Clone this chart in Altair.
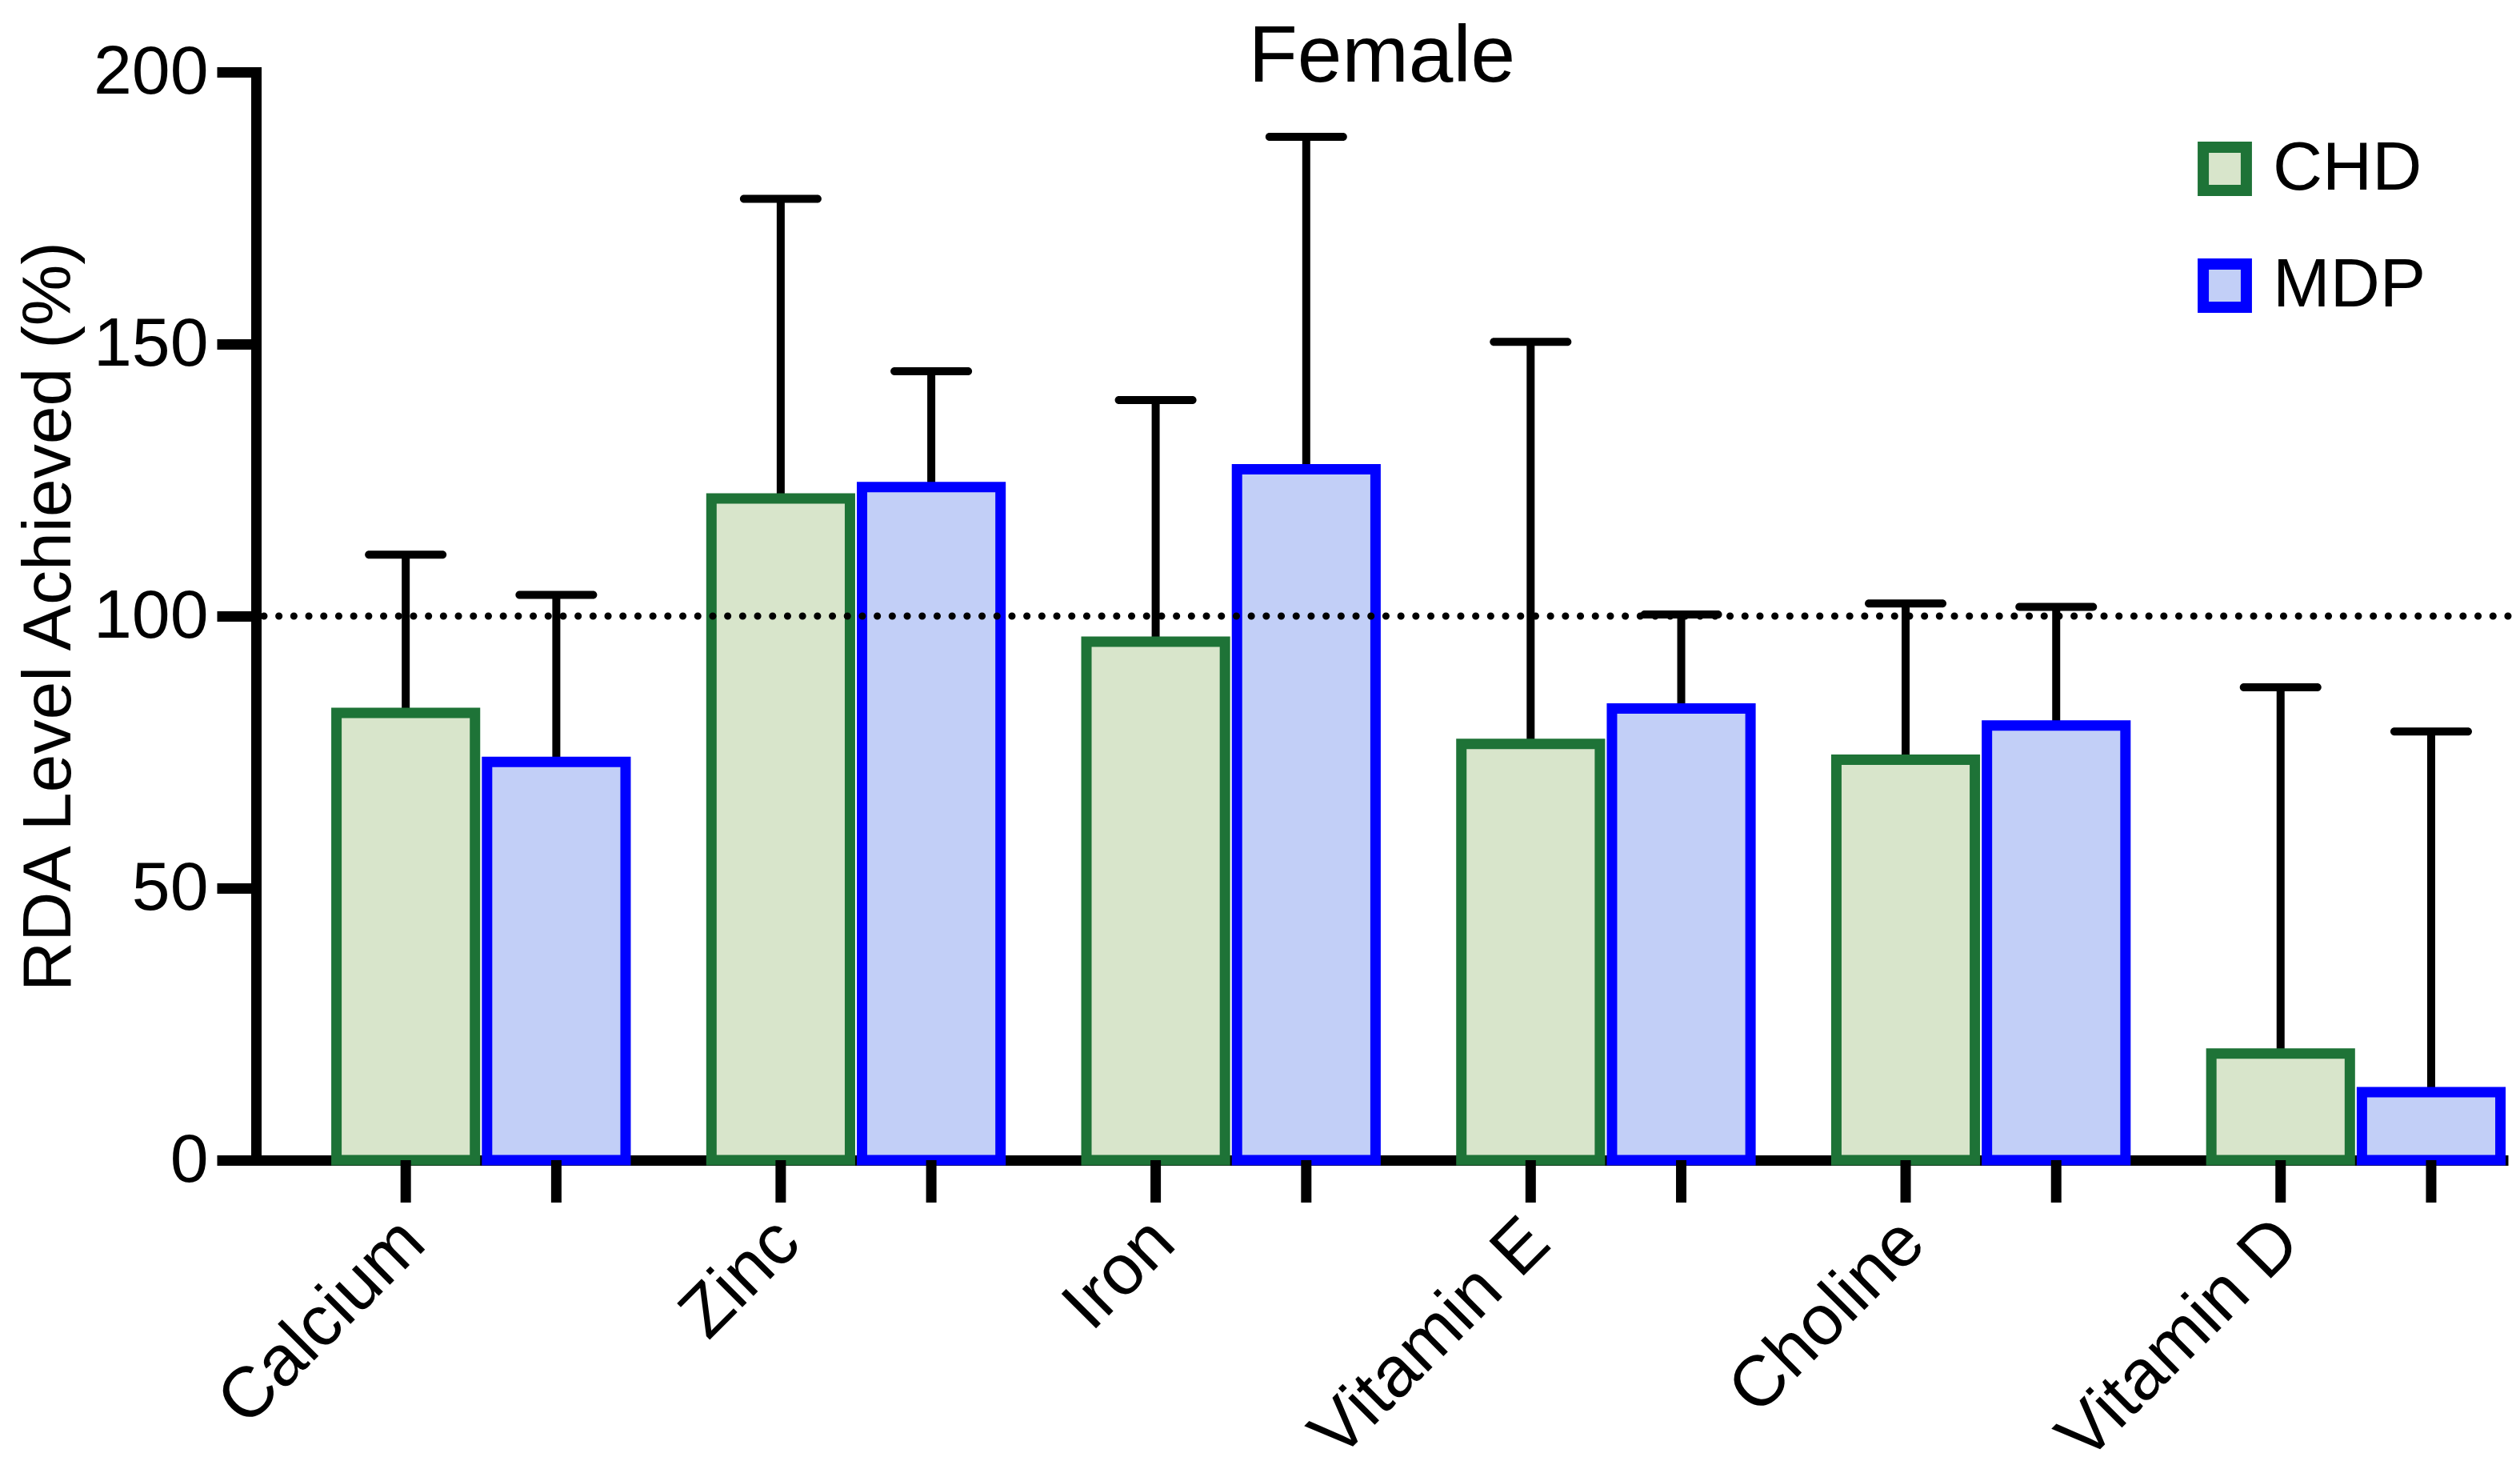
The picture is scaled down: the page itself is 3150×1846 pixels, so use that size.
import altair as alt
import pandas as pd

categories = ["Calcium", "Zinc", "Iron", "Vitamin E", "Choline", "Vitamin D"]
groups = ["CHD", "MDP"]
chd_mean = [82.2, 121.6, 95.3, 76.5, 73.6, 19.6]
chd_upper = [111.3, 176.7, 139.7, 150.4, 102.3, 86.9]
mdp_mean = [73.2, 123.7, 127.0, 83.0, 79.9, 12.5]
mdp_upper = [103.9, 145.0, 188.1, 100.3, 101.7, 78.8]
reference_level = [100]
y_ticks = [0, 50, 100, 150, 200]

fills = ["#d8e5cb", "#c2cff7"]
strokes = ["#1e7337", "#0000ff"]

rows = []
for i, c in enumerate(categories):
    rows.append({"nutrient": c, "group": groups[0], "mean": chd_mean[i], "upper": chd_upper[i]})
    rows.append({"nutrient": c, "group": groups[1], "mean": mdp_mean[i], "upper": mdp_upper[i]})
df = pd.DataFrame(rows)
ref_df = pd.DataFrame({"level": reference_level})

W, H = 2815, 1360
FONT = "Liberation Sans"

x_enc = alt.X(
    "nutrient:N",
    sort=categories,
    scale=alt.Scale(paddingInner=0.229, paddingOuter=0.1174, align=0.914, round=False),
    axis=alt.Axis(
        title=None, ticks=False, labelAngle=-45, labelAlign="right", labelBaseline="middle",
        labelOffset=-85, labelPadding=88, labelFontSize=89, labelFont=FONT,
        labelColor="black", domainColor="black", domainWidth=13, labelLimit=0,
    ),
)
xo_enc = alt.XOffset("group:N", sort=groups, scale=alt.Scale(paddingInner=0.08, paddingOuter=0))
y_scale = alt.Scale(domain=[0, 200], nice=False)
y_axis = alt.Axis(
    title="RDA Level Achieved (%)", values=y_ticks, grid=False,
    titleFont=FONT, titleFontSize=86, titleFontWeight="normal", titleColor="black", titlePadding=15,
    labelFont=FONT, labelFontSize=86, labelColor="black", labelPadding=11,
    tickSize=49, tickWidth=13, tickColor="black",
    domainColor="black", domainWidth=13, domainCap="square",
)

base = alt.Chart(df)

err = base.mark_rule(color="black", strokeWidth=10).encode(
    x=x_enc, xOffset=xo_enc,
    y=alt.Y("mean:Q", scale=y_scale, axis=y_axis),
    y2="upper:Q",
)
cap = base.mark_tick(color="black", size=102, thickness=10, cornerRadius=5, opacity=1).encode(
    x=x_enc, xOffset=xo_enc,
    y=alt.Y("upper:Q", scale=y_scale, axis=y_axis),
)
legend = alt.Legend(
    title=None, orient="none", legendX=2418, legendY=78,
    symbolType="square", symbolSize=2900, symbolStrokeWidth=14, symbolOpacity=1,
    labelFont=FONT, labelFontSize=86, labelColor="black", labelOffset=17, labelLimit=0,
    rowPadding=36,
)
bars = base.mark_bar(strokeWidth=13, opacity=1).encode(
    x=x_enc, xOffset=xo_enc,
    y=alt.Y("mean:Q", scale=y_scale, axis=y_axis),
    fill=alt.Fill("group:N", sort=groups, scale=alt.Scale(domain=groups, range=fills), legend=legend),
    stroke=alt.Stroke("group:N", sort=groups, scale=alt.Scale(domain=groups, range=strokes), legend=legend),
)
bar_ticks = base.mark_rule(color="black", strokeWidth=13).encode(
    x=x_enc, xOffset=xo_enc,
    y=alt.value(H), y2=alt.value(H + 53),
)
ref = alt.Chart(ref_df).mark_rule(
    color="black", strokeWidth=9, strokeDash=[0.1, 18.6], strokeCap="round"
).encode(y=alt.Y("level:Q", scale=y_scale, axis=y_axis))

chart = alt.layer(err, cap, bars, bar_ticks, ref).properties(
    width=W, height=H,
    title=alt.TitleParams(
        "Female", font=FONT, fontSize=100, fontWeight="normal", color="black",
        anchor="middle", frame="group", baseline="alphabetic", offset=-155,
    ),
    padding={"left": 10, "top": 14, "right": 0, "bottom": 0},
    background="white",
).configure_view(stroke=None)

chart.save("out.html", embed_options={"renderer": "svg", "actions": False})
